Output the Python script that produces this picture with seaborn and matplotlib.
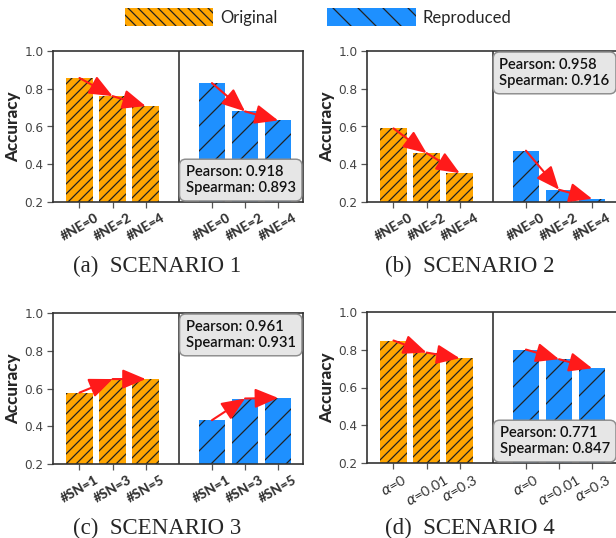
import numpy as np
import pandas as pd
import matplotlib
matplotlib.use("Agg")
import matplotlib.pyplot as plt
from matplotlib.patches import Patch
import seaborn as sns

# values
ne_labels = ["#NE=0", "#NE=2", "#NE=4"]
sn_labels = ["#SN=1", "#SN=3", "#SN=5"]
alpha_labels = [r"$\alpha$=0", r"$\alpha$=0.01", r"$\alpha$=0.3"]

s1_orig = [0.857, 0.761, 0.708]
s1_repr = [0.830, 0.680, 0.632]
s2_orig = [0.590, 0.459, 0.353]
s2_repr = [0.472, 0.265, 0.217]
s3_orig = [0.578, 0.650, 0.650]
s3_repr = [0.432, 0.547, 0.550]
s4_orig = [0.849, 0.785, 0.755]
s4_repr = [0.801, 0.750, 0.702]

pearson = [0.918, 0.958, 0.961, 0.771]
spearman = [0.893, 0.916, 0.931, 0.847]
captions = ["(a)  SCENARIO 1", "(b)  SCENARIO 2", "(c)  SCENARIO 3", "(d)  SCENARIO 4"]

sns.set_style("ticks")
plt.rcParams["font.family"] = ["DejaVu Sans"]
plt.rcParams["hatch.linewidth"] = 0.6

W, H, DPI = 616, 538, 150
fig = plt.figure(figsize=(W / DPI, H / DPI), dpi=DPI)

palette = {"Original": "#FFA500", "Reproduced": "#1E90FF"}


def px_rect(left, top, right, bottom):
    return [left / W, 1 - bottom / H, (right - left) / W, (bottom - top) / H]


def panel(rect, orig, repr_, labels, r_p, r_s, box_top, caption, cap_xy, bold_ticks=True):
    ax = fig.add_axes(px_rect(*rect))
    df = pd.DataFrame({
        "pos": [0, 1, 2, 4, 5, 6],
        "acc": orig + repr_,
        "group": ["Original"] * 3 + ["Reproduced"] * 3,
    })
    sns.barplot(data=df, x="pos", y="acc", hue="group", palette=palette,
                native_scale=True, dodge=False, width=0.8, errorbar=None,
                legend=False, linewidth=0, saturation=1, ax=ax)
    for p in ax.patches:
        centre = p.get_x() + p.get_width() / 2
        p.set_edgecolor("#222222")
        p.set_linewidth(0)
        p.set_hatch("/////" if centre < 3 else "//")

    for vals, off in ((orig, 0), (repr_, 4)):
        for i in range(2):
            ax.annotate("", xy=(off + i + 1, vals[i + 1]), xytext=(off + i, vals[i]),
                        arrowprops=dict(arrowstyle="-|>,head_length=0.95,head_width=0.4",
                                        color="#ff1a1a", lw=1.0, shrinkA=0, shrinkB=0,
                                        mutation_scale=10), zorder=5)

    ax.axvline(3, color="#333333", lw=0.8)
    ax.set_xlim(-0.8, 6.75)
    ax.set_ylim(0.2, 1.0)
    ax.set_yticks([0.2, 0.4, 0.6, 0.8, 1.0])
    ax.set_yticklabels(["0.2", "0.4", "0.6", "0.8", "1.0"])
    ax.set_xticks([0, 1, 2, 4, 5, 6])
    ax.set_xticklabels(labels * 2, rotation=30, family="Lato",
                       weight="black" if bold_ticks else "normal",
                       fontsize=6.5 if bold_ticks else 6.9)
    ax.set_xlabel("")
    ax.set_ylabel("Accuracy", family="Lato", weight="black", fontsize=8.2, labelpad=1.5)
    ax.tick_params(axis="both", length=3, width=0.6, color="#555555",
                   labelcolor="#444444", pad=1.5)
    ax.tick_params(axis="y", labelsize=5.8)
    for lbl in ax.get_xticklabels():
        lbl.set_color("#333333")
    for s in ax.spines.values():
        s.set_color("#333333")
        s.set_linewidth(0.8)

    fs = 7.1
    pad = 0.42
    off = pad * fs + 0.5
    if box_top:
        xy, xyt, va = (1, 1), (-off, -off), "top"
    else:
        xy, xyt, va = (1, 0), (-off, off), "bottom"
    ax.annotate(f"Pearson: {r_p:.3f}\nSpearman: {r_s:.3f}", xy=xy, xycoords="axes fraction",
                xytext=xyt, textcoords="offset points", ha="right", va=va,
                multialignment="left", family="Lato", weight="semibold", fontsize=fs,
                linespacing=1.12, color="#111111",
                bbox=dict(boxstyle=f"round,pad={pad}", fc="#e6e6e6", ec="#8c8c8c", lw=0.7),
                zorder=10)

    fig.text(cap_xy[0] / W, 1 - cap_xy[1] / H, caption, ha="center", va="baseline",
             family="Liberation Serif", fontsize=11)
    return ax


panel((53, 51, 303, 202), s1_orig, s1_repr, ne_labels, pearson[0], spearman[0], False,
      captions[0], (157, 272))
panel((367, 51, 617, 202), s2_orig, s2_repr, ne_labels, pearson[1], spearman[1], True,
      captions[1], (470, 272))
panel((53, 313, 303, 464), s3_orig, s3_repr, sn_labels, pearson[2], spearman[2], True,
      captions[2], (157, 534))
panel((367, 312, 617, 463), s4_orig, s4_repr, alpha_labels, pearson[3], spearman[3], False,
      captions[3], (470, 534), bold_ticks=False)

handles = [
    Patch(facecolor=palette["Original"], edgecolor="#222222", linewidth=0,
          hatch="\\" * 5, label="Original"),
    Patch(facecolor=palette["Reproduced"], edgecolor="#222222", linewidth=0,
          hatch="\\" * 2, label="Reproduced"),
]
fig.legend(handles=handles, loc="center", bbox_to_anchor=(318 / W, 1 - 17 / H), ncol=2,
           frameon=False, handlelength=5.3, handleheight=1.35, handletextpad=0.4,
           columnspacing=3.0, borderpad=0, prop={"family": "Lato", "size": 8})

fig.savefig("out.png", dpi=DPI)
